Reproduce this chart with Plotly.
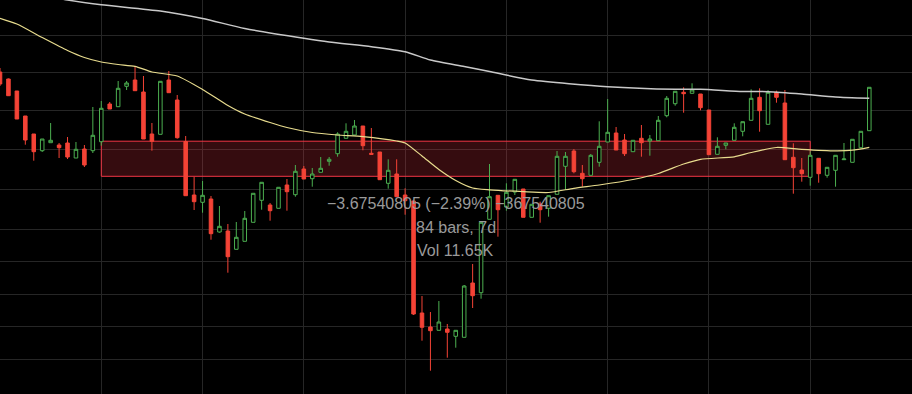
import plotly.graph_objects as go

# ---- candle data (2h bars) ----
bars = list(range(104))
opens = [152.80, 152.10, 150.90, 148.40, 146.60, 144.93, 145.73, 145.50, 145.70, 144.20,
         145.10, 144.93, 145.83, 149.60, 149.33, 151.37, 152.00, 150.80, 146.60, 146.57,
         152.00, 150.00, 145.85, 140.50, 139.77, 140.10, 136.80, 136.90, 135.07, 135.87,
         137.77, 139.97, 139.50, 139.17, 141.50, 140.53, 143.10, 142.13, 142.77, 143.87,
         144.63, 146.17, 146.50, 147.40, 144.67, 144.80, 141.67, 142.60, 140.50, 139.90,
         128.70, 127.30, 126.97, 127.10, 126.37, 126.27, 131.70, 130.73, 138.07, 140.47,
         139.30, 140.80, 141.10, 138.27, 139.60, 139.17, 140.57, 143.37, 144.90, 142.67,
         142.47, 143.77, 145.80, 146.70, 146.00, 144.83, 146.17, 145.90, 145.93, 148.43,
         149.63, 150.77, 150.67, 150.60, 149.00, 144.57, 145.47, 145.97, 146.87, 147.97,
         150.27, 147.57, 150.77, 149.70, 144.27, 143.00, 142.27, 144.17, 142.47, 142.97,
         144.03, 143.77, 145.23, 146.93]
highs = [153.20, 152.15, 150.90, 148.40, 146.60, 146.10, 147.70, 145.70, 146.30, 145.80,
         145.50, 149.30, 149.90, 149.80, 151.90, 151.90, 153.40, 152.40, 147.70, 151.90,
         152.90, 150.50, 146.40, 142.33, 141.90, 140.40, 139.40, 137.60, 137.80, 138.90,
         140.67, 141.77, 139.70, 141.27, 142.10, 143.50, 143.40, 143.20, 144.30, 144.30,
         146.77, 147.67, 148.00, 147.40, 147.20, 144.80, 144.07, 144.07, 141.17, 139.90,
         130.40, 128.80, 129.90, 127.60, 126.97, 131.50, 133.60, 137.77, 143.60, 140.47,
         141.67, 142.07, 141.10, 139.57, 139.83, 140.43, 144.90, 144.80, 145.10, 143.50,
         144.60, 147.87, 150.10, 147.30, 146.60, 145.97, 147.50, 146.50, 148.40, 150.40,
         150.87, 151.27, 151.67, 150.60, 149.00, 146.27, 145.70, 147.67, 147.83, 151.07,
         151.17, 151.00, 150.93, 151.00, 145.67, 144.20, 144.87, 144.17, 143.27, 144.47,
         145.70, 146.07, 146.87, 151.27]
lows = [151.40, 150.40, 148.10, 145.53, 143.93, 144.80, 145.73, 144.20, 144.10, 144.20,
        143.30, 144.70, 145.43, 149.10, 149.33, 151.00, 150.93, 146.10, 144.93, 146.57,
        150.73, 146.13, 140.43, 139.00, 138.73, 136.03, 136.73, 132.73, 135.07, 135.87,
        137.77, 139.03, 137.93, 139.17, 138.93, 140.33, 142.10, 141.33, 142.77, 143.43,
        144.33, 146.17, 146.50, 144.97, 144.57, 142.03, 141.13, 140.33, 138.53, 128.50,
        125.93, 122.93, 126.97, 124.23, 125.23, 126.27, 129.20, 130.13, 138.07, 136.33,
        138.93, 140.50, 138.27, 138.27, 137.73, 138.33, 140.57, 141.00, 142.67, 141.33,
        142.47, 143.33, 145.80, 145.00, 144.40, 144.83, 144.33, 144.43, 145.93, 148.27,
        149.43, 148.73, 150.67, 148.97, 144.53, 144.57, 145.07, 145.97, 146.37, 147.97,
        146.83, 147.57, 149.73, 144.03, 140.63, 141.83, 141.43, 141.73, 142.23, 141.33,
        144.03, 143.77, 145.17, 146.93]
closes = [151.60, 150.43, 148.10, 146.00, 144.83, 146.10, 145.97, 145.23, 144.30, 145.07,
          143.50, 146.47, 149.17, 149.10, 151.17, 151.70, 150.93, 146.10, 145.87, 151.87,
          150.73, 146.23, 140.43, 139.83, 140.47, 136.63, 137.37, 134.33, 136.27, 138.17,
          140.67, 141.77, 138.93, 141.27, 140.83, 142.87, 142.10, 142.60, 143.17, 144.07,
          146.60, 146.87, 147.40, 145.43, 144.57, 142.03, 142.97, 140.33, 139.93, 128.60,
          127.27, 126.93, 127.80, 126.77, 126.97, 131.40, 130.43, 137.77, 140.33, 139.03,
          140.77, 142.07, 138.27, 139.57, 139.03, 140.43, 144.37, 144.37, 142.83, 142.13,
          144.47, 145.37, 146.77, 145.00, 144.63, 145.97, 145.73, 146.10, 147.97, 150.17,
          150.87, 150.63, 151.00, 149.23, 144.53, 145.37, 145.70, 147.27, 147.83, 150.17,
          148.93, 150.77, 150.27, 144.03, 143.23, 142.63, 144.47, 142.63, 143.27, 144.47,
          144.10, 146.07, 146.87, 151.27]

# ---- moving averages ----
ma_fast_bars = [0, 2, 5, 8, 10, 12, 14, 16, 18, 21, 24, 27, 29, 32, 34, 37, 40, 43, 47, 48,
                50, 52, 54, 56, 58, 62, 65, 68, 71, 75, 78, 81, 83, 87, 89, 92, 95, 99, 101, 103]
ma_fast = [158.17, 157.60, 156.25, 154.95, 154.25, 153.80, 153.55, 153.37, 152.80, 152.40,
           151.05, 149.45, 148.60, 147.75, 147.25, 146.75, 146.50, 146.33, 145.90, 145.70,
           144.40, 143.05, 141.95, 141.20, 141.02, 140.83, 140.75, 141.17, 141.50, 142.05,
           142.65, 143.60, 144.07, 144.32, 144.75, 145.25, 145.07, 144.92, 144.98, 145.27]
ma_slow_bars = [0, 8, 12, 19, 24, 29, 36, 39, 44, 48, 51, 55, 58, 63, 72, 80, 83, 88, 91, 95, 99, 103]
ma_slow = [161.30, 160.00, 159.53, 158.90, 158.15, 157.15, 156.17, 155.80, 155.33, 154.83,
           154.00, 153.35, 152.85, 152.00, 151.33, 151.07, 151.07, 150.85, 150.83, 150.60,
           150.30, 150.17]

# ---- measurement zone ----
zone_bars = [12, 96]
zone_prices = [142.37, 145.88]
zone_text = ["−3.67540805 (−2.39%) −367540805", "84 bars, 7d", "Vol 11.65K"]
zone_text_prices = [139.70, 137.30, 135.00]

grid_bars = list(range(0, 109, 12))
grid_prices = [156.5, 152.77, 148.97, 145.07, 141.1, 137.07, 133.83, 130.6, 127.33, 124.1]

UP = "#4caf50"
DOWN = "#f44336"

fig = go.Figure()
fig.add_trace(go.Candlestick(
    x=bars, open=opens, high=highs, low=lows, close=closes,
    increasing=dict(line=dict(color=UP, width=1), fillcolor="#000000"),
    decreasing=dict(line=dict(color=DOWN, width=1), fillcolor=DOWN),
    whiskerwidth=0, showlegend=False, hoverinfo="skip",
))
fig.add_trace(go.Scatter(x=ma_slow_bars, y=ma_slow, mode="lines",
                         line=dict(color="#c9c9c9", width=1.5, shape="spline", smoothing=0.6),
                         showlegend=False, hoverinfo="skip"))
fig.add_trace(go.Scatter(x=ma_fast_bars, y=ma_fast, mode="lines",
                         line=dict(color="#e8dc8e", width=1.2, shape="spline", smoothing=0.6),
                         showlegend=False, hoverinfo="skip"))

fig.add_shape(type="rect", xref="x", yref="y",
              x0=zone_bars[0], x1=zone_bars[1], y0=zone_prices[0], y1=zone_prices[1],
              line=dict(color="#f23645", width=1),
              fillcolor="rgba(242,54,69,0.22)", layer="between")

mid = (zone_bars[0] + zone_bars[1]) / 2
for t, yv in zip(zone_text, zone_text_prices):
    fig.add_annotation(x=mid, y=yv, xref="x", yref="y", text=t, showarrow=False,
                       font=dict(family="Liberation Sans, Arial, sans-serif", size=16, color="#9a9a9a"),
                       xanchor="center", yanchor="middle")

fig.update_layout(
    width=912, height=394,
    margin=dict(l=0, r=0, t=0, b=0),
    paper_bgcolor="#000000", plot_bgcolor="#000000",
    boxgap=0.4,
    xaxis=dict(range=[0, 108.06], tickvals=grid_bars, showticklabels=False, ticks="",
               showgrid=True, gridcolor="#262626", gridwidth=1, zeroline=False,
               rangeslider=dict(visible=False), showline=False, fixedrange=True),
    yaxis=dict(range=[120.6, 160.0], tickvals=grid_prices, showticklabels=False, ticks="",
               showgrid=True, gridcolor="#262626", gridwidth=1, zeroline=False,
               showline=False, fixedrange=True),
)

fig.write_html("out.html", config={"displayModeBar": False},
               post_script="document.body.style.margin='0';document.body.style.background='#000';")
